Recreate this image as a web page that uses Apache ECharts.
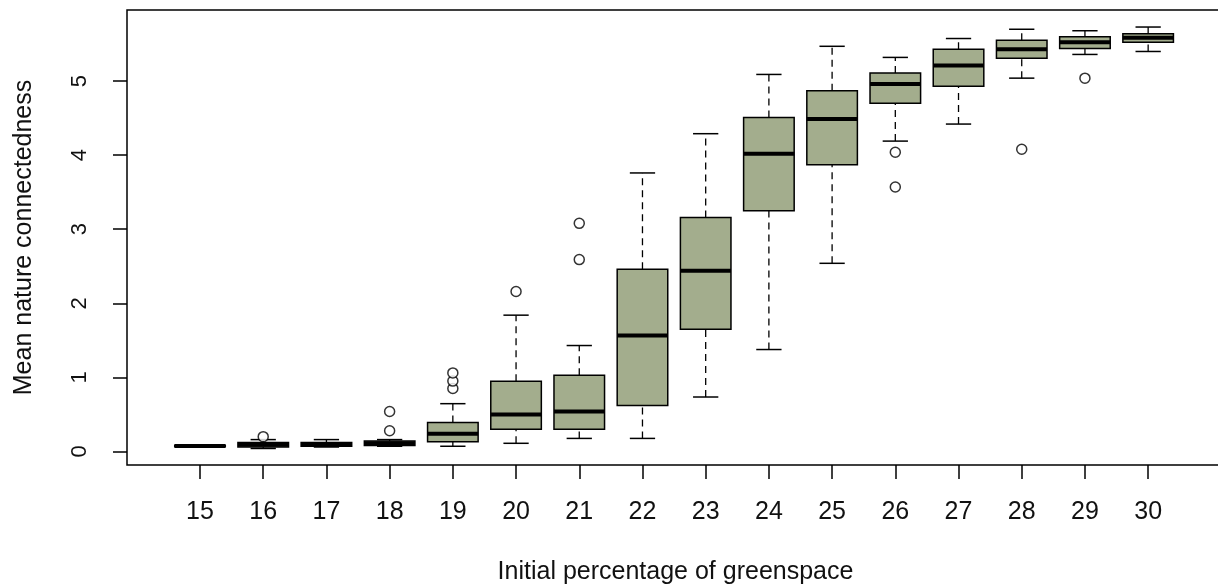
<!DOCTYPE html>
<html>
<head>
<meta charset="utf-8">
<script src="https://cdn.jsdelivr.net/npm/echarts@6/dist/echarts.min.js"></script>
<style>
  html, body { margin: 0; padding: 0; background: #fff; }
  #main { width: 1218px; height: 587px; }
</style>
</head>
<body>
<div id="main"></div>
<script>
var myChart = echarts.init(document.getElementById("main"));

// greenspace percentage groups
var categories = ["15", "16", "17", "18", "19", "20", "21", "22", "23", "24", "25", "26", "27", "28", "29", "30"];
// five-number summaries
var lowerWhisker = [0.06, 0.04, 0.06, 0.07, 0.07, 0.11, 0.176, 0.176, 0.735, 1.376, 2.54, 4.19, 4.42, 5.04, 5.36, 5.40];
var quart1 = [0.065, 0.06, 0.07, 0.08, 0.13, 0.30, 0.30, 0.62, 1.65, 3.25, 3.87, 4.70, 4.93, 5.31, 5.44, 5.525];
var medians = [0.075, 0.09, 0.09, 0.11, 0.24, 0.50, 0.54, 1.565, 2.44, 4.02, 4.49, 4.96, 5.21, 5.43, 5.525, 5.585];
var quart3 = [0.085, 0.12, 0.12, 0.14, 0.39, 0.947, 1.03, 2.46, 3.16, 4.51, 4.87, 5.11, 5.43, 5.55, 5.60, 5.64];
var upperWhisker = [0.09, 0.16, 0.16, 0.16, 0.645, 1.84, 1.43, 3.76, 4.29, 5.09, 5.47, 5.32, 5.575, 5.70, 5.68, 5.73];
// outliers: [group index, value]
var outliers = [
  [1, 0.2],
  [3, 0.28], [3, 0.54],
  [4, 0.85], [4, 0.95], [4, 1.06],
  [5, 2.16],
  [6, 2.59], [6, 3.08],
  [11, 4.04], [11, 3.57],
  [13, 4.08],
  [14, 5.04]
];
var yTicks = [0, 1, 2, 3, 4, 5];

var boxData = categories.map(function (c, i) {
  return [i, lowerWhisker[i], quart1[i], medians[i], quart3[i], upperWhisker[i]];
});
var xTicks = categories.map(function (c, i) { return i; });

var fontName = "Liberation Sans, Arial, sans-serif";

function renderBox(params, api) {
  var i = api.value(0);
  var pMin = api.coord([i, api.value(1)]);
  var pQ1 = api.coord([i, api.value(2)]);
  var pMed = api.coord([i, api.value(3)]);
  var pQ3 = api.coord([i, api.value(4)]);
  var pMax = api.coord([i, api.value(5)]);
  var boxW = api.size([0.8, 0])[0];
  var capW = api.size([0.4, 0])[0];
  var x = pMed[0];
  var dash = { stroke: "#000", lineWidth: 1.3, lineDash: [7, 5] };
  var solid = { stroke: "#000", lineWidth: 1.5 };
  return {
    type: "group",
    children: [
      { type: "line", shape: { x1: x, y1: pMin[1], x2: x, y2: pQ1[1] }, style: dash },
      { type: "line", shape: { x1: x, y1: pQ3[1], x2: x, y2: pMax[1] }, style: dash },
      { type: "line", shape: { x1: x - capW / 2, y1: pMin[1], x2: x + capW / 2, y2: pMin[1] }, style: solid },
      { type: "line", shape: { x1: x - capW / 2, y1: pMax[1], x2: x + capW / 2, y2: pMax[1] }, style: solid },
      {
        type: "rect",
        shape: { x: x - boxW / 2, y: pQ3[1], width: boxW, height: pQ1[1] - pQ3[1] },
        style: { fill: "#a3ad8d", stroke: "#000", lineWidth: 1.5 }
      },
      { type: "line", shape: { x1: x - boxW / 2, y1: pMed[1], x2: x + boxW / 2, y2: pMed[1] }, style: { stroke: "#000", lineWidth: 4 } }
    ]
  };
}

var option = {
  backgroundColor: "#fff",
  animation: false,
  grid: {
    left: 127,
    top: 10,
    right: -6,
    bottom: 122,
    outerBoundsMode: "none",
    show: true,
    borderColor: "#000",
    borderWidth: 1.5
  },
  xAxis: {
    type: "value",
    min: -1.155,
    max: 16.2,
    name: "Initial percentage of greenspace",
    nameLocation: "middle",
    nameGap: 95,
    nameTextStyle: { fontSize: 25, color: "#111", fontFamily: fontName },
    axisLine: { show: false, onZero: false },
    splitLine: { show: false },
    axisTick: {
      show: true,
      length: 14,
      customValues: xTicks,
      lineStyle: { color: "#000", width: 1.5 }
    },
    axisLabel: {
      fontSize: 25,
      color: "#111",
      fontFamily: fontName,
      margin: 35,
      customValues: xTicks,
      formatter: function (v) { return categories[Math.round(v)]; }
    }
  },
  yAxis: {
    type: "value",
    min: -0.183,
    max: 5.96,
    name: "Mean nature connectedness",
    nameLocation: "middle",
    nameGap: 90,
    nameTextStyle: { fontSize: 25, color: "#111", fontFamily: fontName },
    axisLine: { show: false, onZero: false },
    splitLine: { show: false },
    axisTick: {
      show: true,
      length: 14,
      customValues: yTicks,
      lineStyle: { color: "#000", width: 1.5 }
    },
    axisLabel: {
      fontSize: 22,
      color: "#111",
      fontFamily: fontName,
      rotate: 90,
      margin: 36,
      customValues: yTicks
    }
  },
  series: [
    {
      name: "box",
      type: "custom",
      renderItem: renderBox,
      encode: { x: 0, y: [1, 2, 3, 4, 5] },
      data: boxData,
      z: 2
    },
    {
      name: "outliers",
      type: "scatter",
      symbol: "circle",
      symbolSize: 10,
      itemStyle: { color: "#fff", borderColor: "#000", borderWidth: 1.5 },
      data: outliers,
      z: 3
    }
  ]
};

myChart.setOption(option);
</script>
</body>
</html>
